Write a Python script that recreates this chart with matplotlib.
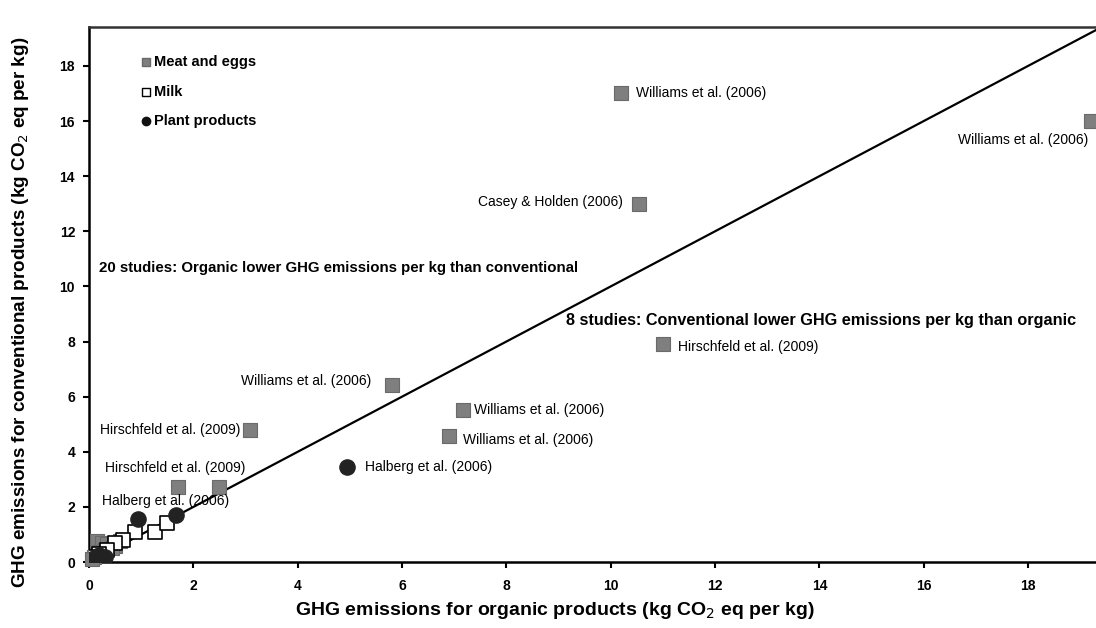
import matplotlib
matplotlib.use("Agg")
import matplotlib.pyplot as plt

# Meat and eggs (grey squares)
meat_x = [10.2, 19.2, 10.55, 11.0, 5.8, 7.16, 6.9, 3.08, 1.7, 2.49,
          0.15, 0.25, 0.35, 0.3, 0.2, 0.1, 0.05, 0.5, 0.6, 0.45]
meat_y = [17.0, 16.0, 13.0, 7.9, 6.42, 5.5, 4.57, 4.79, 2.72, 2.72,
          0.75, 0.7, 0.65, 0.45, 0.35, 0.2, 0.1, 0.6, 0.75, 0.5]

# Milk (open squares)
milk_x = [0.88, 1.26, 1.49, 0.65, 0.5, 0.35, 0.2, 0.12]
milk_y = [1.09, 1.09, 1.41, 0.8, 0.69, 0.45, 0.3, 0.2]

# Plant products (black circles)
plant_x = [4.94, 0.94, 1.67, 0.05, 0.1, 0.2, 0.3]
plant_y = [3.45, 1.56, 1.7, 0.05, 0.15, 0.25, 0.2]

# study labels: text, x, y, ha, offset (points)
labels = [
    ("Williams et al. (2006)", 10.2, 17.0, "left", (11, 0)),
    ("Williams et al. (2006)", 19.2, 16.0, "right", (-2, -14)),
    ("Casey & Holden (2006)", 10.55, 13.0, "right", (-12, 1)),
    ("Hirschfeld et al. (2009)", 11.0, 7.9, "left", (11, -2)),
    ("Williams et al. (2006)", 5.8, 6.42, "right", (-15, 3)),
    ("Williams et al. (2006)", 7.16, 5.5, "left", (8, 0)),
    ("Williams et al. (2006)", 6.9, 4.57, "left", (10, -3)),
    ("Hirschfeld et al. (2009)", 3.08, 4.79, "right", (-7, 0)),
    ("Hirschfeld et al. (2009)", 1.7, 2.72, "right", (49, 14)),
    ("Halberg et al. (2006)", 1.67, 1.7, "right", (38, 10)),
    ("Halberg et al. (2006)", 4.94, 3.45, "left", (13, 0)),
]

xmax = 19.3
ymax = 19.41

fig = plt.figure(figsize=(10.96, 6.28), dpi=100)
ax = fig.add_axes([0.0812, 0.105, 1.0 - 0.0812, 0.852])
ax.set_xlim(0, xmax)
ax.set_ylim(0, ymax)

# 1:1 line
ax.plot([0, 20], [0, 20], color="black", lw=1.6, zorder=2)

ax.scatter(meat_x, meat_y, marker="s", s=110, color="#7f7f7f",
           edgecolors="#6a6a6a", linewidths=0.8, zorder=3, clip_on=False)
ax.scatter(milk_x, milk_y, marker="s", s=110, color="white",
           edgecolors="black", linewidths=1.2, zorder=3)
ax.scatter(plant_x, plant_y, marker="o", s=120, color="#222222",
           edgecolors="#222222", zorder=4)

lab_font = dict(family=["Liberation Sans", "DejaVu Sans"], fontsize=10,
                color="black")
for txt, x, y, ha, off in labels:
    ax.annotate(txt, (x, y), xytext=off, textcoords="offset points",
                ha=ha, va="center", **lab_font)

note_font = dict(family=["Liberation Sans", "DejaVu Sans"],
                 fontweight="bold", color="black")
ax.text(0.2, 10.65, "20 studies: Organic lower GHG emissions per kg than conventional",
        ha="left", va="center", fontsize=10.8, **note_font)
ax.text(9.15, 8.78, "8 studies: Conventional lower GHG emissions per kg than organic",
        ha="left", va="center", fontsize=11.7, **note_font)

# legend drawn by hand as in the original
leg_font = dict(family=["Liberation Sans", "DejaVu Sans"], fontsize=10.5,
                fontweight="bold", color="black")
leg_items = [("Meat and eggs", "s", "#7f7f7f", "#6a6a6a", 18.15),
             ("Milk", "s", "white", "black", 17.05),
             ("Plant products", "o", "#111111", "#111111", 16.0)]
for name, mk, fc, ec, ly in leg_items:
    ax.scatter([1.1], [ly], marker=mk, s=36, color=fc, edgecolors=ec,
               linewidths=1.0, zorder=5)
    ax.text(1.25, ly, name, ha="left", va="center", **leg_font)

ax.set_xticks(range(0, 20, 2))
ax.set_yticks(range(0, 20, 2))
for lab in ax.get_xticklabels() + ax.get_yticklabels():
    lab.set_fontfamily(["Liberation Sans", "DejaVu Sans"])
    lab.set_fontsize(10)
    lab.set_fontweight("bold")
ax.tick_params(axis="x", length=4, width=1.5, pad=8, direction="out")
ax.tick_params(axis="y", length=4, width=1.5, pad=6, direction="out")

ax.spines["right"].set_visible(False)
for s in ["left", "bottom", "top"]:
    ax.spines[s].set_linewidth(1.8)
ax.spines["top"].set_color("#333333")

axis_font = dict(family=["Liberation Sans", "DejaVu Sans"],
                 fontsize=14, fontweight="bold")
ax.set_xlabel("GHG emissions for organic products (kg CO$_2$ eq per kg)", **axis_font)
ax.set_ylabel("GHG emissions for conventional products (kg CO$_2$ eq per kg)",
              fontsize=13.6, fontweight="bold", family=["Liberation Sans", "DejaVu Sans"])
ax.xaxis.set_label_coords(0.463, -0.071)
ax.yaxis.set_label_coords(-0.058, 0.467)

fig.savefig("out.png", dpi=100)
